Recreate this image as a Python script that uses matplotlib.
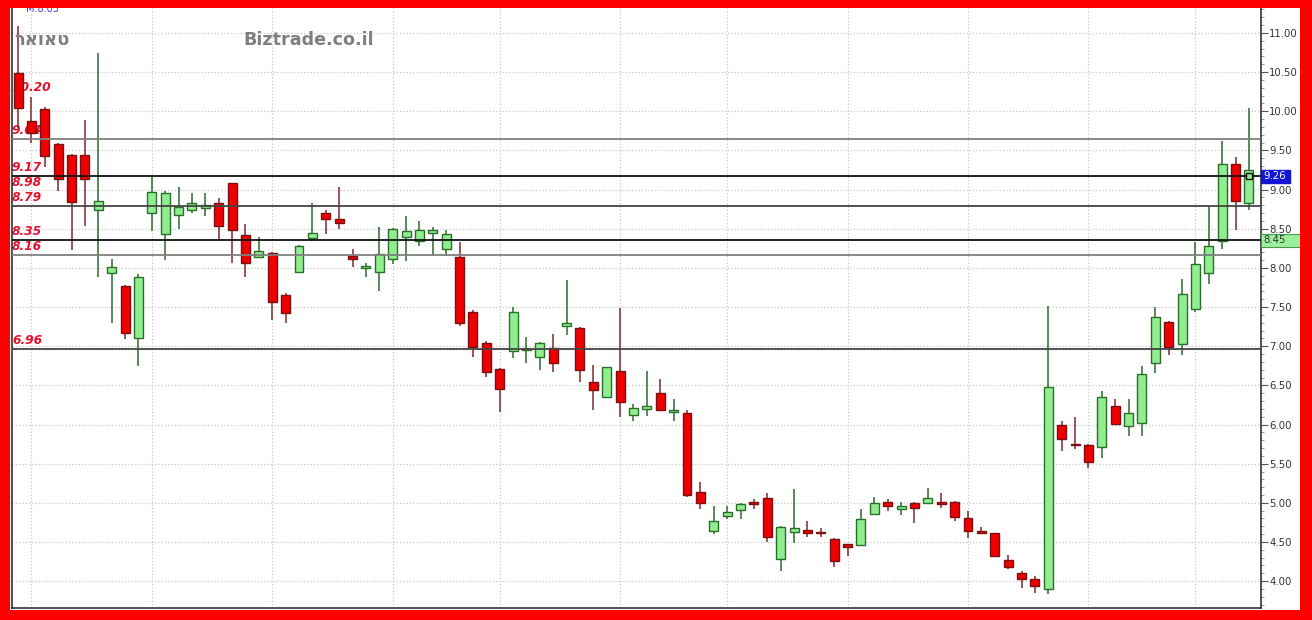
import matplotlib
matplotlib.use('Agg')
import matplotlib.pyplot as plt
import matplotlib.transforms as mtransforms
from matplotlib.patches import Rectangle
from matplotlib.ticker import MultipleLocator, FormatStrFormatter

title = "טאואר"
site = "Biztrade.co.il"
ma_label = "M.8.03"

opens = [10.49, 9.88, 10.03, 9.58, 9.44, 9.44, 8.74, 7.93, 7.77, 7.10,
         8.70, 8.43, 8.68, 8.74, 8.77, 8.83, 9.08, 8.42, 8.14, 8.19,
         7.65, 7.95, 8.38, 8.70, 8.62, 8.15, 8.00, 7.95, 8.11, 8.39,
         8.34, 8.45, 8.24, 8.14, 7.44, 7.04, 6.71, 6.94, 6.95, 6.86,
         6.98, 7.26, 7.23, 6.54, 6.35, 6.68, 6.12, 6.20, 6.40, 6.16,
         6.15, 5.14, 4.64, 4.83, 4.91, 5.01, 5.06, 4.28, 4.63, 4.65,
         4.62, 4.54, 4.47, 4.46, 4.86, 5.01, 4.92, 5.00, 5.00, 5.01,
         5.01, 4.81, 4.64, 4.61, 4.27, 4.10, 4.03, 3.90, 6.00, 5.75,
         5.74, 5.71, 6.24, 5.98, 6.02, 6.79, 7.31, 7.03, 7.48, 7.93,
         8.34, 9.33, 8.83]
closes = [10.04, 9.72, 9.43, 9.14, 8.84, 9.14, 8.85, 8.01, 7.17, 7.88,
          8.97, 8.96, 8.78, 8.83, 8.80, 8.54, 8.48, 8.06, 8.22, 7.56,
          7.42, 8.28, 8.45, 8.62, 8.57, 8.11, 8.02, 8.18, 8.50, 8.47,
          8.48, 8.48, 8.43, 7.30, 6.99, 6.67, 6.45, 7.44, 6.96, 7.04,
          6.79, 7.30, 6.70, 6.44, 6.73, 6.29, 6.21, 6.24, 6.19, 6.19,
          5.10, 5.00, 4.77, 4.88, 4.98, 4.98, 4.56, 4.69, 4.68, 4.61,
          4.61, 4.26, 4.44, 4.79, 5.00, 4.96, 4.96, 4.93, 5.06, 4.98,
          4.82, 4.64, 4.61, 4.32, 4.18, 4.03, 3.94, 6.48, 5.81, 5.74,
          5.52, 6.35, 6.01, 6.15, 6.64, 7.37, 6.99, 7.67, 8.05, 8.28,
          9.33, 8.85, 9.25]
highs = [11.09, 10.18, 10.05, 9.60, 9.45, 9.89, 10.74, 8.11, 7.78, 7.92,
         9.16, 8.98, 9.03, 8.96, 8.96, 8.89, 9.09, 8.56, 8.39, 8.20,
         7.68, 8.29, 8.83, 8.74, 9.03, 8.24, 8.06, 8.52, 8.51, 8.66,
         8.60, 8.52, 8.48, 8.33, 7.46, 7.07, 6.72, 7.50, 7.12, 7.05,
         7.16, 7.85, 7.24, 6.76, 6.74, 7.49, 6.26, 6.68, 6.58, 6.33,
         6.19, 5.27, 4.96, 4.96, 5.00, 5.05, 5.12, 4.71, 5.18, 4.77,
         4.68, 4.55, 4.48, 4.92, 5.07, 5.05, 5.01, 5.01, 5.19, 5.12,
         5.02, 4.90, 4.69, 4.62, 4.33, 4.13, 4.07, 7.51, 6.04, 6.10,
         5.75, 6.43, 6.33, 6.33, 6.75, 7.50, 7.32, 7.86, 8.33, 8.79,
         9.62, 9.42, 10.04]
lows = [9.79, 9.60, 9.29, 8.98, 8.23, 8.54, 7.88, 7.30, 7.09, 6.75,
        8.47, 8.10, 8.50, 8.70, 8.66, 8.34, 8.06, 7.88, 8.13, 7.33,
        7.30, 7.94, 8.34, 8.43, 8.50, 8.01, 7.88, 7.70, 8.05, 8.09,
        8.28, 8.15, 8.15, 7.26, 6.86, 6.61, 6.16, 6.85, 6.79, 6.70,
        6.67, 7.14, 6.54, 6.19, 6.34, 6.10, 6.04, 6.11, 6.17, 6.04,
        5.07, 4.92, 4.60, 4.79, 4.79, 4.92, 4.50, 4.13, 4.49, 4.56,
        4.56, 4.18, 4.32, 4.45, 4.85, 4.90, 4.84, 4.74, 4.99, 4.93,
        4.77, 4.55, 4.60, 4.31, 4.15, 3.91, 3.85, 3.84, 5.66, 5.69,
        5.44, 5.57, 6.00, 5.85, 5.85, 6.66, 6.89, 6.89, 7.44, 7.79,
        8.24, 8.48, 8.74]

# month boundaries (candle index) for the vertical grid
month_starts = [1, 10, 19, 28, 36, 45, 53, 62, 71, 80, 88]

# support / resistance lines and labels
levels = [9.64, 9.17, 8.79, 8.35, 8.16, 6.96]
level_colors = ['#808080', '#111111', '#444444', '#111111', '#808080', '#444444']
label_levels = [10.20, 9.64, 9.17, 8.98, 8.79, 8.35, 8.16, 6.96]

last_price = 9.26
last_price_at = 9.17
last_marker = 9.17
ref_price = 8.45
ref_price_at = 8.35

###

W, H = 1312, 620
fig = plt.figure(figsize=(W / 100, H / 100), dpi=100)
fig.patch.set_facecolor('white')

ax = fig.add_axes([12 / W, 12 / H, (1261 - 12) / W, (608 - 8) / H])
ax.set_facecolor('white')

n = len(opens)
xs = list(range(n))
up_face, up_edge = '#90ee90', '#2a6e2a'
dn_face, dn_edge = '#ee0000', '#7a1010'
body_w = 0.67

for i in xs:
  o, c, hi, lo = opens[i], closes[i], highs[i], lows[i]
  up = c >= o
  face = up_face if up else dn_face
  edge = up_edge if up else dn_edge
  wick = '#2f6a2f' if up else '#7a2a2a'
  ax.vlines(i, lo, hi, color=wick, linewidth=1.1, zorder=3)
  h = max(abs(c - o), 0.012)
  ax.bar(i, h, bottom=min(o, c), width=body_w, color=face,
         edgecolor=edge, linewidth=1.0, zorder=4)

ax.plot([n - 1], [last_marker], marker='s', markersize=5,
        markerfacecolor=up_face, markeredgecolor='#111111',
        markeredgewidth=1.0, zorder=6)

for lv, col in zip(levels, level_colors):
  ax.axhline(lv, color=col, linewidth=1.3, zorder=5)

trans = mtransforms.blended_transform_factory(ax.transAxes, ax.transData)
off = mtransforms.offset_copy(trans, fig=fig, x=0, y=2, units='dots')
for lv in label_levels:
  ax.text(0.0, lv, '%.2f' % lv, transform=off, ha='left', va='bottom',
          color='#e8102a', fontsize=8.8, fontweight='bold', style='italic',
          zorder=2)

# grid
ax.set_xlim(-0.45, 92.9)
ax.set_ylim(3.657, 11.319)
ax.yaxis.set_major_locator(MultipleLocator(0.5))
ax.yaxis.set_minor_locator(MultipleLocator(0.1))
ax.yaxis.set_major_formatter(FormatStrFormatter('%.2f'))
ax.set_xticks(month_starts)
ax.tick_params(axis='x', length=0, labelbottom=False)
ax.yaxis.tick_right()
ax.tick_params(axis='y', which='major', length=5, width=0.8, color='#555555',
               labelsize=7.3, labelcolor='#333333', pad=1)
ax.tick_params(axis='y', which='minor', length=2, width=0.6, color='#888888')
ax.grid(True, which='major', color='#c8c8c8', linestyle=':', linewidth=0.9)
ax.set_axisbelow(True)

for side in ['left', 'bottom', 'right']:
  ax.spines[side].set_color('#333333')
  ax.spines[side].set_linewidth(1.2)
ax.spines['top'].set_visible(False)

# price boxes on the right axis
px = 1.0 / 78.34
ax.add_patch(Rectangle((1.0, last_price_at - 6.5 * px), 29 / 1249, 13 * px,
                       transform=trans, facecolor='#1414d4', edgecolor='#1414d4',
                       clip_on=False, zorder=7))
ax.text(1.0 + 2 / 1249, last_price_at, '%.2f' % last_price, transform=trans,
        ha='left', va='center', color='white', fontsize=7.3, zorder=8,
        clip_on=False)
ax.add_patch(Rectangle((1.0, ref_price_at - 7 * px), 39 / 1249, 14 * px,
                       transform=trans, facecolor='#9cef9c', edgecolor='#4a9a4a',
                       linewidth=0.8, clip_on=False, zorder=7))
ax.text(1.0 + 2 / 1249, ref_price_at, '%.2f' % ref_price, transform=trans,
        ha='left', va='center', color='#333333', fontsize=7.3, zorder=8,
        clip_on=False)

# titles
fig.text(14 / W, 1 - 40 / H, title[::-1], ha='left', va='center',
         color='#7f7f7f', fontsize=13, fontweight='bold', zorder=8)
fig.text(243 / W, 1 - 40 / H, site, ha='left', va='center',
         color='#7f7f7f', fontsize=12.6, fontweight='bold', zorder=8)
fig.text(26 / W, 1 - 9 / H, ma_label, ha='left', va='center',
         color='#3a3ad0', fontsize=7, zorder=8)

# red frame
red = '#ff0000'
for r in [(0, 0, 10 / W, 1), (1300 / W, 0, 1 - 1300 / W, 1),
          (0, 0, 1, 10 / H), (0, 1 - 8 / H, 1, 8 / H)]:
  fig.patches.append(Rectangle((r[0], r[1]), r[2], r[3], transform=fig.transFigure,
                               facecolor=red, edgecolor='none', zorder=20))

plt.savefig('out.png', dpi=100)
